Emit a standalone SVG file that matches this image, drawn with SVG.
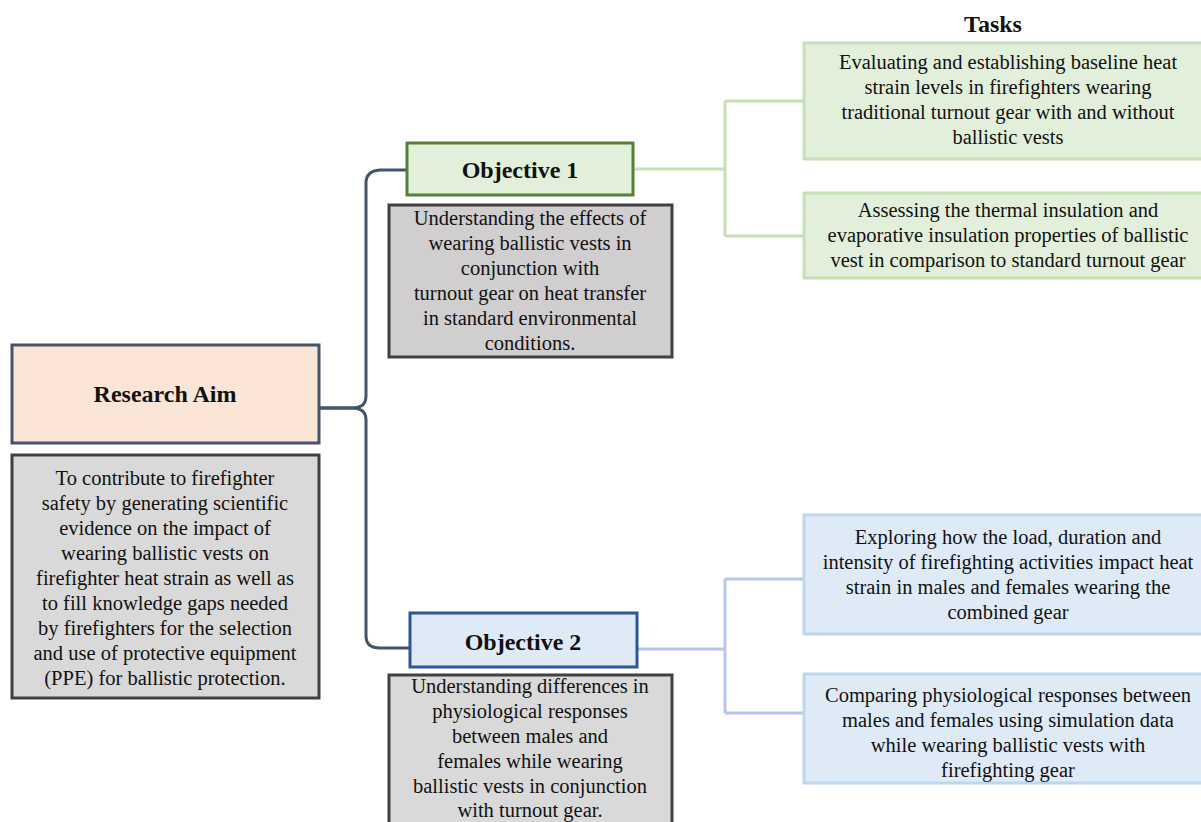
<svg xmlns="http://www.w3.org/2000/svg" width="1201" height="822" viewBox="0 0 1201 822">
<style>
text{font-family:"Liberation Serif","Times New Roman",serif;fill:#111;text-anchor:middle}
.t{font-size:20.5px}
.b{font-size:24px;font-weight:bold}
.desc{fill:#d9d9d9;stroke:#404040;stroke-width:3}
.gbox{fill:#e2efda;stroke:#c5e0b4;stroke-width:3}
.bbox{fill:#deebf7;stroke:#bdd7ee;stroke-width:3}
.con{fill:none;stroke-width:3}
</style>
<rect width="1201" height="822" fill="#fff"/>
<g id="connectors">
<path class="con" stroke="#44546a" d="M319,408 L352,408 Q366,408 366,396 L366,183 Q366,171 380,170 L407,170"/>
<path class="con" stroke="#44546a" d="M319,408 L352,408 Q366,408 366,420 L366,636 Q366,648 380,648 L410,648"/>
<path class="con" stroke="#c5e0b4" d="M633,169 L725,169 M725,101 L725,236 M725,101 L804,101 M725,236 L804,236"/>
<path class="con" stroke="#b4c7e7" d="M637,649 L725,649 M725,579 L725,713 M725,579 L804,579 M725,713 L804,713"/>
</g>
<g id="tasks-title"><text class="b" x="993" y="32">Tasks</text></g>
<g id="research-aim">
<rect x="12" y="345" width="307" height="98" fill="#fbe5d6" stroke="#44546a" stroke-width="3"/>
<text class="b" x="165" y="402">Research Aim</text>
</g>
<g id="aim-desc">
<rect class="desc" x="12" y="455" width="307" height="243"/>
<text class="t" x="165" y="485">To contribute to firefighter</text>
<text class="t" x="165" y="510">safety by generating scientific</text>
<text class="t" x="165" y="535">evidence on the impact of</text>
<text class="t" x="165" y="560">wearing ballistic vests on</text>
<text class="t" x="165" y="585">firefighter heat strain as well as</text>
<text class="t" x="165" y="610">to fill knowledge gaps needed</text>
<text class="t" x="165" y="635">by firefighters for the selection</text>
<text class="t" x="165" y="660">and use of protective equipment</text>
<text class="t" x="165" y="685">(PPE) for ballistic protection.</text>
</g>
<g id="objective1">
<rect x="407" y="143" width="226" height="52" fill="#e2efda" stroke="#548235" stroke-width="3"/>
<text class="b" x="520" y="178">Objective 1</text>
</g>
<g id="obj1-desc">
<rect class="desc" style="fill:#d0cece" x="389" y="205" width="283" height="152"/>
<text class="t" x="530" y="225">Understanding the effects of</text>
<text class="t" x="530" y="250">wearing ballistic vests in</text>
<text class="t" x="530" y="275">conjunction with</text>
<text class="t" x="530" y="300">turnout gear on heat transfer</text>
<text class="t" x="530" y="325">in standard environmental</text>
<text class="t" x="530" y="350">conditions.</text>
</g>
<g id="objective2">
<rect x="410" y="613" width="227" height="54" fill="#deebf7" stroke="#2f5597" stroke-width="3"/>
<text class="b" x="523" y="650">Objective 2</text>
</g>
<g id="obj2-desc">
<rect class="desc" x="389" y="675" width="283" height="160"/>
<text class="t" x="530" y="693">Understanding differences in</text>
<text class="t" x="530" y="718">physiological responses</text>
<text class="t" x="530" y="743">between males and</text>
<text class="t" x="530" y="768">females while wearing</text>
<text class="t" x="530" y="793">ballistic vests in conjunction</text>
<text class="t" x="530" y="817">with turnout gear.</text>
</g>
<g id="task1">
<rect class="gbox" x="804" y="43" width="410" height="116"/>
<text class="t" x="1008" y="69">Evaluating and establishing baseline heat</text>
<text class="t" x="1008" y="94">strain levels in firefighters wearing</text>
<text class="t" x="1008" y="119">traditional turnout gear with and without</text>
<text class="t" x="1008" y="144">ballistic vests</text>
</g>
<g id="task2">
<rect class="gbox" x="804" y="193" width="410" height="85"/>
<text class="t" x="1008" y="217">Assessing the thermal insulation and</text>
<text class="t" x="1008" y="242">evaporative insulation properties of ballistic</text>
<text class="t" x="1008" y="267">vest in comparison to standard turnout gear</text>
</g>
<g id="task3">
<rect class="bbox" x="804" y="515" width="410" height="119"/>
<text class="t" x="1008" y="544">Exploring how the load, duration and</text>
<text class="t" x="1008" y="569">intensity of firefighting activities impact heat</text>
<text class="t" x="1008" y="594">strain in males and females wearing the</text>
<text class="t" x="1008" y="619">combined gear</text>
</g>
<g id="task4">
<rect class="bbox" x="804" y="674" width="410" height="109"/>
<text class="t" x="1008" y="702">Comparing physiological responses between</text>
<text class="t" x="1008" y="727">males and females using simulation data</text>
<text class="t" x="1008" y="752">while wearing ballistic vests with</text>
<text class="t" x="1008" y="777">firefighting gear</text>
</g>
</svg>
